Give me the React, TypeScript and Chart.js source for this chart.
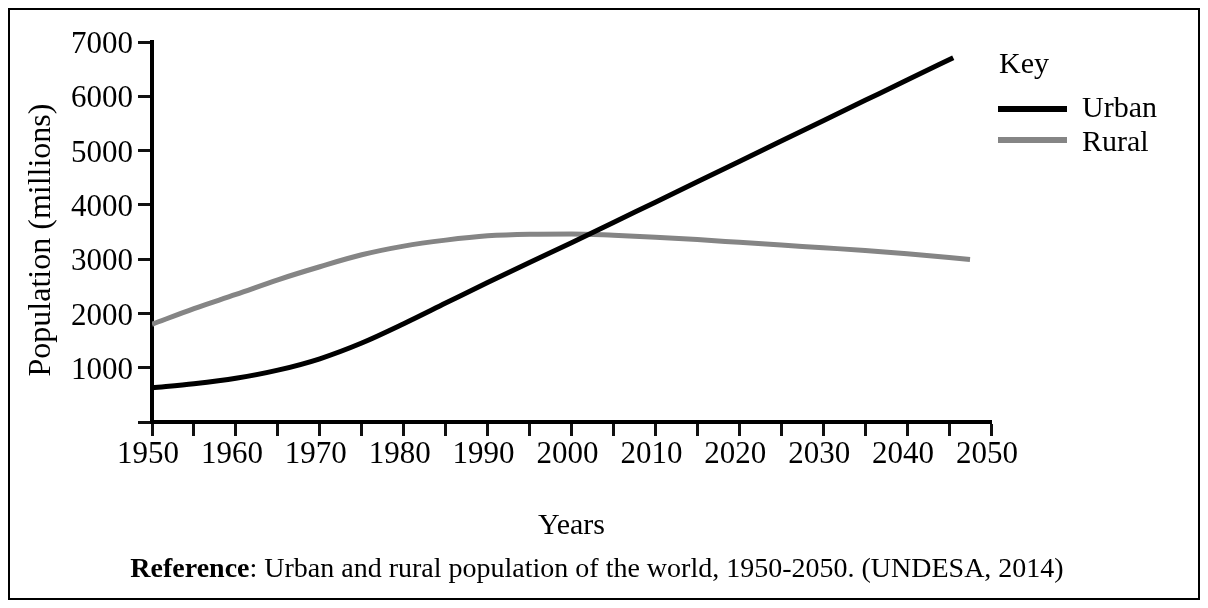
import React, { useEffect, useRef } from "react";
import { Chart, registerables } from "chart.js";

Chart.register(...registerables);

const urbanYears = [1950, 1955, 1960, 1965, 1970, 1975, 1980, 1985, 1990, 1995, 2000, 2005, 2010, 2015, 2020, 2025, 2030, 2035, 2040, 2045.5];
const urbanValues = [630, 705, 805, 955, 1165, 1455, 1810, 2190, 2570, 2940, 3300, 3675, 4050, 4425, 4800, 5175, 5550, 5925, 6300, 6712];

const ruralYears = [1950, 1955, 1960, 1965, 1970, 1975, 1980, 1985, 1990, 1995, 2000, 2005, 2010, 2015, 2020, 2025, 2030, 2035, 2040, 2047.5];
const ruralValues = [1800, 2090, 2350, 2620, 2860, 3080, 3240, 3350, 3430, 3460, 3465, 3440, 3405, 3360, 3310, 3260, 3210, 3160, 3100, 2995];

const xTickMin = 1950;
const xTickMax = 2050;
const xTickStep = 5;
const yTickMin = 0;
const yTickMax = 7000;
const yTickStep = 1000;

const seriesNames = ["Urban", "Rural"];
const legendTitle = "Key";
const xTitle = "Years";
const yTitle = "Population (millions)  ";
const captionBold = "Reference";
const captionRest = ": Urban and rural population of the world, 1950-2050. (UNDESA, 2014)";

const FONT = "'Liberation Serif', 'Times New Roman', serif";
const URBAN_COLOR = "#000000";
const RURAL_COLOR = "#858585";

const CANVAS_W = 1188;
const CANVAS_H = 588;
const AREA_LEFT = 142;
const AREA_RIGHT = 981;
const AREA_TOP = 32;
const AREA_BOTTOM = 412;

export default function App() {
  const canvasRef = useRef<HTMLCanvasElement | null>(null);

  useEffect(() => {
    const canvas = canvasRef.current;
    if (!canvas) return;
    const chart = new Chart(canvas, {
      type: "line",
      data: {
        datasets: [
          {
            label: seriesNames[0],
            data: urbanYears.map((x, i) => ({ x, y: urbanValues[i] })),
            borderColor: URBAN_COLOR,
            backgroundColor: URBAN_COLOR,
            borderWidth: 5,
            pointRadius: 0,
            cubicInterpolationMode: "monotone",
            fill: false,
          },
          {
            label: seriesNames[1],
            data: ruralYears.map((x, i) => ({ x, y: ruralValues[i] })),
            borderColor: RURAL_COLOR,
            backgroundColor: RURAL_COLOR,
            borderWidth: 5,
            pointRadius: 0,
            cubicInterpolationMode: "monotone",
            fill: false,
          },
        ],
      },
      options: {
        responsive: false,
        animation: false,
        events: [],
        layout: {
          autoPadding: false,
          padding: { left: 0, top: AREA_TOP, right: CANVAS_W - AREA_RIGHT, bottom: 0 },
        },
        plugins: {
          legend: { display: false },
          tooltip: { enabled: false },
        },
        scales: {
          x: {
            type: "linear",
            min: xTickMin,
            max: xTickMax,
            afterFit: (scale: any) => {
              scale.height = CANVAS_H - AREA_BOTTOM;
            },
            ticks: {
              stepSize: xTickStep,
              autoSkip: false,
              maxRotation: 0,
              padding: 0,
              labelOffset: -4,
              color: "#000",
              font: { family: FONT, size: 31 },
              callback: (v: any) => (Number(v) % 10 === 0 ? String(v) : ""),
            },
            grid: {
              drawOnChartArea: false,
              drawTicks: true,
              tickLength: 14,
              tickWidth: 3,
              tickColor: "#111",
            },
            border: { display: true, color: "#000", width: 4 },
            title: {
              display: true,
              text: xTitle,
              color: "#000",
              font: { family: FONT, size: 30 },
              padding: { top: 0, bottom: 54 },
            },
          },
          y: {
            type: "linear",
            min: yTickMin,
            max: yTickMax,
            afterFit: (scale: any) => {
              scale.width = AREA_LEFT;
            },
            ticks: {
              stepSize: yTickStep,
              padding: 5,
              labelOffset: 3,
              color: "#000",
              font: { family: FONT, size: 31 },
              callback: (v: any) => (Number(v) === 0 ? "" : String(v)),
            },
            grid: {
              drawOnChartArea: false,
              drawTicks: true,
              tickLength: 14,
              tickWidth: 3,
              tickColor: "#111",
            },
            border: { display: true, color: "#000", width: 4 },
            title: {
              display: true,
              text: yTitle,
              color: "#000",
              font: { family: FONT, size: 32 },
              padding: { top: 12, bottom: 0 },
            },
          },
        },
      },
    });
    return () => chart.destroy();
  }, []);

  const textStyle: React.CSSProperties = {
    position: "absolute",
    fontFamily: FONT,
    fontSize: 30,
    lineHeight: "30px",
    color: "#000",
    whiteSpace: "nowrap",
  };

  return (
    <div
      style={{
        position: "relative",
        width: 1192,
        height: 592,
        border: "2px solid #000",
        boxSizing: "border-box",
        background: "#fff",
      }}
    >
      <canvas
        ref={canvasRef}
        width={CANVAS_W}
        height={CANVAS_H}
        style={{ position: "absolute", left: 0, top: 0, width: CANVAS_W, height: CANVAS_H }}
      />
      <div style={{ ...textStyle, left: 989, top: 38 }}>{legendTitle}</div>
      <div style={{ position: "absolute", left: 988, top: 96, width: 69, height: 6, background: URBAN_COLOR }} />
      <div style={{ ...textStyle, left: 1072, top: 82 }}>{seriesNames[0]}</div>
      <div style={{ position: "absolute", left: 988, top: 127, width: 69, height: 6, background: RURAL_COLOR }} />
      <div style={{ ...textStyle, left: 1072, top: 116 }}>{seriesNames[1]}</div>
      <div style={{ ...textStyle, fontSize: 28, left: 0, top: 543, width: 1174, textAlign: "center" }}>
        <b>{captionBold}</b>
        {captionRest}
      </div>
    </div>
  );
}
